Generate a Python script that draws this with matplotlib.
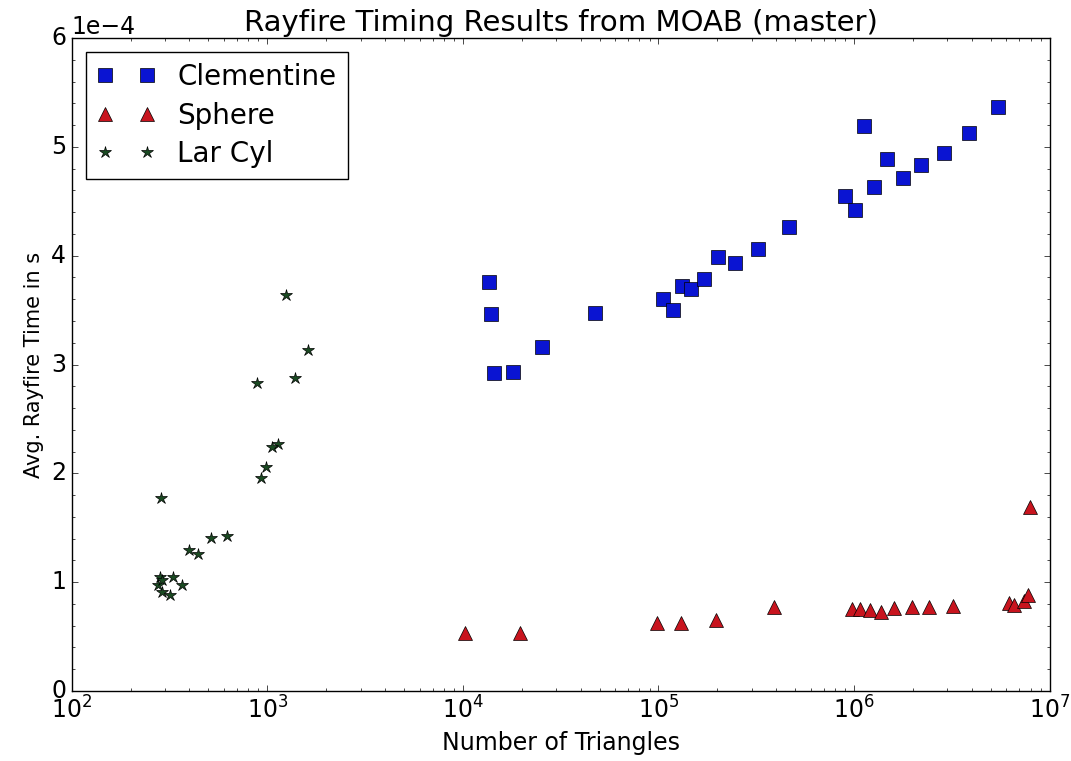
import matplotlib
matplotlib.use("Agg")
from matplotlib import pyplot as plt
from matplotlib.ticker import AutoMinorLocator
import numpy as np

plt.style.use("classic")

# clementine
clem_tris = [13560, 13870, 14360, 17980, 25300, 47200, 105000, 118000, 131500,
             146000, 170000, 201000, 245000, 321000, 463000, 896000, 1007000,
             1120000, 1270000, 1470000, 1770000, 2190000, 2870000, 3850000, 5420000]
clem_time = [3.76, 3.46, 2.92, 2.93, 3.16, 3.47, 3.60, 3.50, 3.72,
             3.69, 3.79, 3.99, 3.93, 4.06, 4.26, 4.55, 4.42,
             5.19, 4.63, 4.89, 4.71, 4.83, 4.94, 5.13, 5.37]

# sphere
sph_tris = [10200, 19500, 98000, 130000, 196000, 392000, 973000, 1070000, 1200000,
            1380000, 1610000, 1970000, 2430000, 3190000, 6200000, 6600000,
            7400000, 7800000, 7900000]
sph_time = [0.53, 0.53, 0.625, 0.625, 0.65, 0.77, 0.75, 0.75, 0.745,
            0.73, 0.76, 0.77, 0.77, 0.78, 0.81, 0.79,
            0.83, 0.88, 1.69]

# lar cyl
cyl_tris = [1242, 1610, 1380, 883, 1130, 1052, 981, 925, 285, 620, 514, 396, 441,
            282, 328, 365, 275, 288, 317, 290]
cyl_time = [3.64, 3.13, 2.88, 2.83, 2.27, 2.24, 2.06, 1.96, 1.77, 1.42, 1.41, 1.30, 1.26,
            1.05, 1.05, 0.97, 0.97, 0.91, 0.88, 1.02]

fig = plt.figure(figsize=(10.71, 7.61), dpi=100)
ax = fig.add_axes([0.067, 0.092, 0.913, 0.858])

ax.semilogx(clem_tris, np.array(clem_time) * 1e-4, 's', color='#0a14d2', ms=10, label='Clementine')
ax.semilogx(sph_tris, np.array(sph_time) * 1e-4, '^', color='#c8141e', ms=10, label='Sphere')
ax.semilogx(cyl_tris, np.array(cyl_time) * 1e-4, '*', color='#1a4a22', ms=9, label='Lar Cyl')

ax.set_xlim(1e2, 1e7)
ax.set_ylim(0, 6e-4)
ax.ticklabel_format(axis='y', style='sci', scilimits=(0, 0))
ax.yaxis.set_minor_locator(AutoMinorLocator(5))
ax.set_title("Rayfire Timing Results from MOAB (master)", fontsize=21)
ax.set_xlabel("Number of Triangles", fontsize=17)
ax.set_ylabel("Avg. Rayfire Time in s", fontsize=15)
ax.tick_params(labelsize=17)
ax.yaxis.get_offset_text().set_fontsize(17)
ax.legend(loc='upper left', fontsize=20, numpoints=2, handlelength=2.1,
          labelspacing=0.38)

fig.savefig("out.png", dpi=100)
